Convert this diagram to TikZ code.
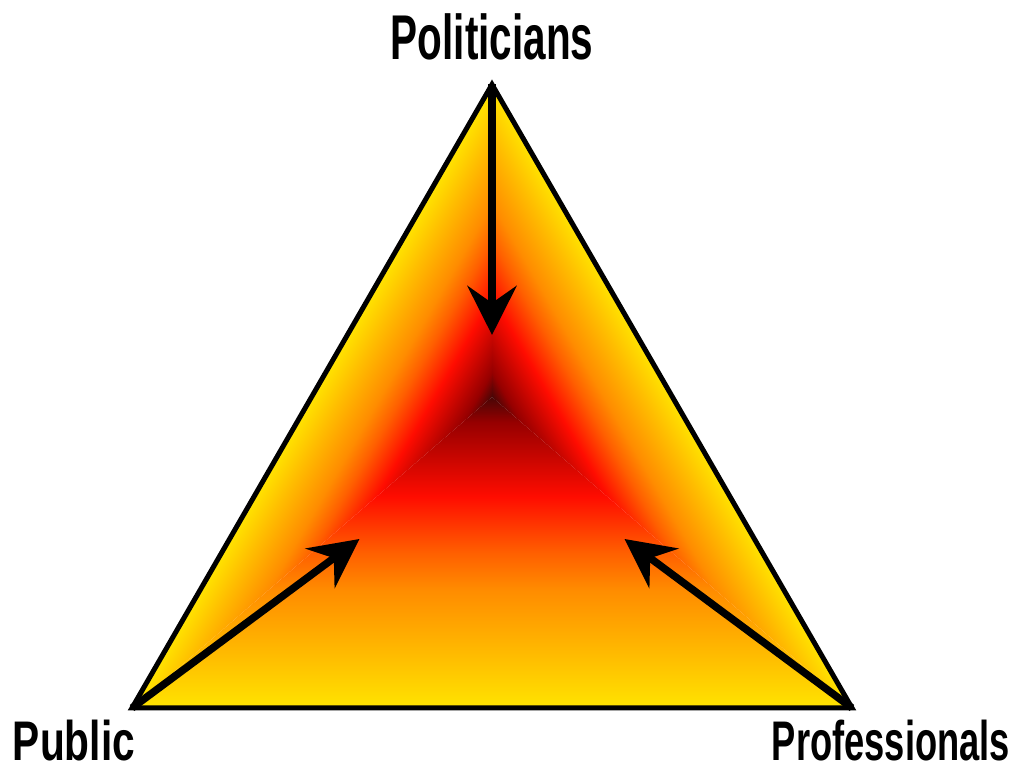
\documentclass[tikz,border=0pt]{standalone}
\usepackage{fontspec}
\setmainfont{Liberation Sans}
\usepackage{graphicx}
\usetikzlibrary{arrows.meta}

\definecolor{heatA}{RGB}{255,228,0}
\definecolor{heatB}{RGB}{255,190,0}
\definecolor{heatC}{RGB}{255,140,0}
\definecolor{heatD}{RGB}{255,95,0}
\definecolor{heatE}{RGB}{255,12,0}
\definecolor{heatF}{RGB}{150,0,0}
\definecolor{heatG}{RGB}{72,6,6}
\pgfdeclareverticalshading{heat}{100bp}{color(0bp)=(heatA); color(25bp)=(heatA);
  color(33bp)=(heatB); color(44bp)=(heatC); color(50bp)=(heatD); color(59bp)=(heatE);
  color(71bp)=(heatF); color(75bp)=(heatG); color(100bp)=(heatG)}

\tikzset{
  corner/.style={font=\bfseries\fontsize{36}{40}\selectfont,inner sep=0pt,anchor=base},
  push/.style={line width=0.15cm,-{Stealth[length=9.8mm,width=9.8mm,inset=3.4mm]}}
}

\begin{document}
\begin{tikzpicture}[x=0.02cm,y=0.02cm]
  \useasboundingbox (0,0) rectangle (1014,766);
  \coordinate (T) at (492,681.5);
  \coordinate (L) at (132,58);
  \coordinate (R) at (852,58);
  \coordinate (M) at (492,369);
  % bottom third
  \begin{scope}
    \clip (L) -- (R) -- (M) -- cycle;
    \shade[shading=heat] (L) rectangle (852,369);
  \end{scope}
  % left third
  \begin{scope}
    \clip (L) -- (T) -- (M) -- cycle;
    \begin{scope}[transform canvas={shift={(132,58)},rotate=-120}]
      \shade[shading=heat] (-720,0) rectangle (0,156.25);
    \end{scope}
  \end{scope}
  % right third
  \begin{scope}
    \clip (R) -- (T) -- (M) -- cycle;
    \begin{scope}[transform canvas={shift={(852,58)},rotate=120}]
      \shade[shading=heat] (0,0) rectangle (720,156.25);
    \end{scope}
  \end{scope}
  \draw[line width=0.1cm,line join=miter] (L) -- (T) -- (R) -- cycle;

  \coordinate (tT) at (492,431);
  \coordinate (tL) at (359.5,227);
  \coordinate (tR) at (624.5,227);
  \draw[push] (T) -- (tT);
  \draw[push] (L) -- (tL);
  \draw[push] (R) -- (tR);

  \node[corner] (pol) at (492,706) {\scalebox{0.64}[1]{Politicians}};
  \node[corner] (pub) at (74,5) {\scalebox{0.643}[0.883]{Public}};
  \node[corner] (pro) at (891,5) {\scalebox{0.574}[0.883]{Professionals}};
\end{tikzpicture}
\end{document}
